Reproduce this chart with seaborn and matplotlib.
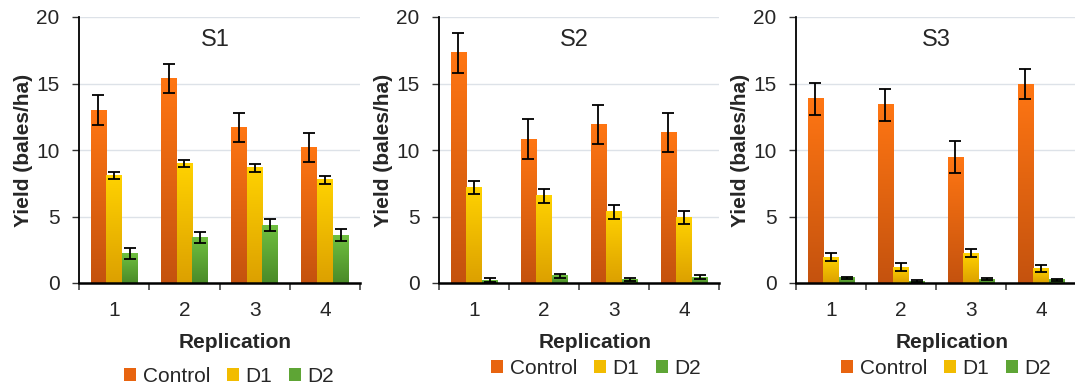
import numpy as np
import pandas as pd
import matplotlib
matplotlib.use("Agg")
import matplotlib.pyplot as plt
from matplotlib.colors import LinearSegmentedColormap
from matplotlib.patches import Patch
from matplotlib.ticker import MultipleLocator, FixedLocator
import seaborn as sns

# ---- data -------------------------------------------------------------
replications = ["1", "2", "3", "4"]
treatments = ["Control", "D1", "D2"]
sites = ["S1", "S2", "S3"]

s1_control = [13.0, 15.4, 11.7, 10.2]
s1_d1 = [8.1, 9.0, 8.65, 7.75]
s1_d2 = [2.2, 3.4, 4.35, 3.6]
s1_control_err = [1.1, 1.1, 1.1, 1.1]
s1_d1_err = [0.28, 0.25, 0.27, 0.3]
s1_d2_err = [0.42, 0.43, 0.47, 0.43]

s2_control = [17.3, 10.8, 11.9, 11.3]
s2_d1 = [7.2, 6.55, 5.35, 4.95]
s2_d2 = [0.22, 0.53, 0.25, 0.45]
s2_control_err = [1.5, 1.5, 1.45, 1.45]
s2_d1_err = [0.5, 0.5, 0.52, 0.48]
s2_d2_err = [0.12, 0.12, 0.12, 0.12]

s3_control = [13.85, 13.4, 9.47, 14.95]
s3_d1 = [1.95, 1.2, 2.25, 1.12]
s3_d2 = [0.38, 0.15, 0.3, 0.25]
s3_control_err = [1.2, 1.2, 1.2, 1.15]
s3_d1_err = [0.3, 0.28, 0.3, 0.27]
s3_d2_err = [0.08, 0.08, 0.08, 0.08]

site_values = {
    "S1": ([s1_control, s1_d1, s1_d2], [s1_control_err, s1_d1_err, s1_d2_err]),
    "S2": ([s2_control, s2_d1, s2_d2], [s2_control_err, s2_d1_err, s2_d2_err]),
    "S3": ([s3_control, s3_d1, s3_d2], [s3_control_err, s3_d1_err, s3_d2_err]),
}

# ---- style ------------------------------------------------------------
sns.set_style("white")
plt.rcParams["font.family"] = ["Liberation Sans", "DejaVu Sans"]

# gradient fills (bottom colour, top colour) and flat legend colours
gradients = {
    "Control": ("#C4520E", "#FF7613"),
    "D1": ("#DCA000", "#FFD200"),
    "D2": ("#4A8A28", "#70C040"),
}
flat = {"Control": "#E8640F", "D1": "#F2BC00", "D2": "#5EA535"}

W, H = 1075, 391
fig = plt.figure(figsize=(W / 100, H / 100), dpi=100)

# axes boxes in pixels: left, top, right, bottom
boxes = [(79, 17, 360, 283), (439, 17, 719, 283), (796, 17, 1076, 283)]
title_x = [0.485, 0.485, 0.5]
legend_pos = [(229, 376), (596, 368), (946, 368)]

grad = np.linspace(0, 1, 256).reshape(-1, 1)

for site, box, tx, lpos in zip(sites, boxes, title_x, legend_pos):
    l, t, r, b = box
    ax = fig.add_axes([l / W, 1 - b / H, (r - l) / W, (b - t) / H])
    values, errors = site_values[site]

    rows = []
    for trt, vals in zip(treatments, values):
        for rep, v in zip(replications, vals):
            rows.append({"Replication": rep, "Treatment": trt, "Yield": v})
    df = pd.DataFrame(rows)

    sns.barplot(data=df, x="Replication", y="Yield", hue="Treatment",
                hue_order=treatments, order=replications,
                palette=flat, width=0.67, errorbar=None, legend=False,
                ax=ax, zorder=2, linewidth=0)

    # gradient fill inside each bar, then error bars on top
    for cont, trt, err in zip(ax.containers, treatments, errors):
        cmap = LinearSegmentedColormap.from_list(trt, gradients[trt])
        xs, ys = [], []
        for bar in cont:
            x0 = bar.get_x()
            w = bar.get_width()
            h = bar.get_height()
            bar.set_facecolor("none")
            ax.imshow(grad, extent=[x0, x0 + w, 0, h], origin="lower",
                      aspect="auto", cmap=cmap, zorder=2, interpolation="bilinear")
            xs.append(x0 + w / 2)
            ys.append(h)
        ax.errorbar(xs, ys, yerr=err, fmt="none", ecolor="black",
                    elinewidth=1.3, capsize=4.2, capthick=1.3, zorder=4)

    ax.set_xlim(-0.5, 3.5)
    ax.set_ylim(0, 20)
    ax.yaxis.set_major_locator(MultipleLocator(5))
    ax.grid(axis="y", color="#DDE2E8", linewidth=1.0, zorder=0)
    ax.set_axisbelow(True)

    for side in ["top", "right"]:
        ax.spines[side].set_visible(False)
    ax.spines["left"].set_color("black")
    ax.spines["left"].set_linewidth(1.3)
    ax.spines["bottom"].set_color("black")
    ax.spines["bottom"].set_linewidth(1.8)
    ax.spines["bottom"].set_zorder(5)

    ax.tick_params(axis="y", which="major", length=5, width=1, color="#333333",
                   direction="out", labelsize=15, pad=9, left=True)
    ax.xaxis.set_minor_locator(FixedLocator([-0.5, 0.5, 1.5, 2.5, 3.5]))
    ax.tick_params(axis="x", which="minor", length=5, width=1.2, color="#444444",
                   direction="out", bottom=True)
    ax.tick_params(axis="x", which="major", length=0, labelsize=15, pad=13)

    ax.set_ylabel("Yield (bales/ha)", fontsize=15, fontweight="bold")
    ax.yaxis.set_label_coords(-46 / (r - l), 0.5)
    ax.set_xlabel("Replication", fontsize=15, fontweight="bold")
    ax.xaxis.set_label_coords(0.557, -50 / (b - t))

    ax.text(tx, 0.915, site, transform=ax.transAxes, ha="center", va="center",
            fontsize=17)

    handles = [Patch(facecolor=flat[trt], edgecolor="none") for trt in treatments]
    ax.legend(handles, treatments, loc="center", ncol=3, frameon=False,
              bbox_to_anchor=(lpos[0] / W, 1 - lpos[1] / H),
              bbox_transform=fig.transFigure, fontsize=15,
              handlelength=0.6, handleheight=0.6, handletextpad=0.3,
              columnspacing=0.8, borderpad=0, borderaxespad=0)

fig.savefig("out.png", dpi=100)
